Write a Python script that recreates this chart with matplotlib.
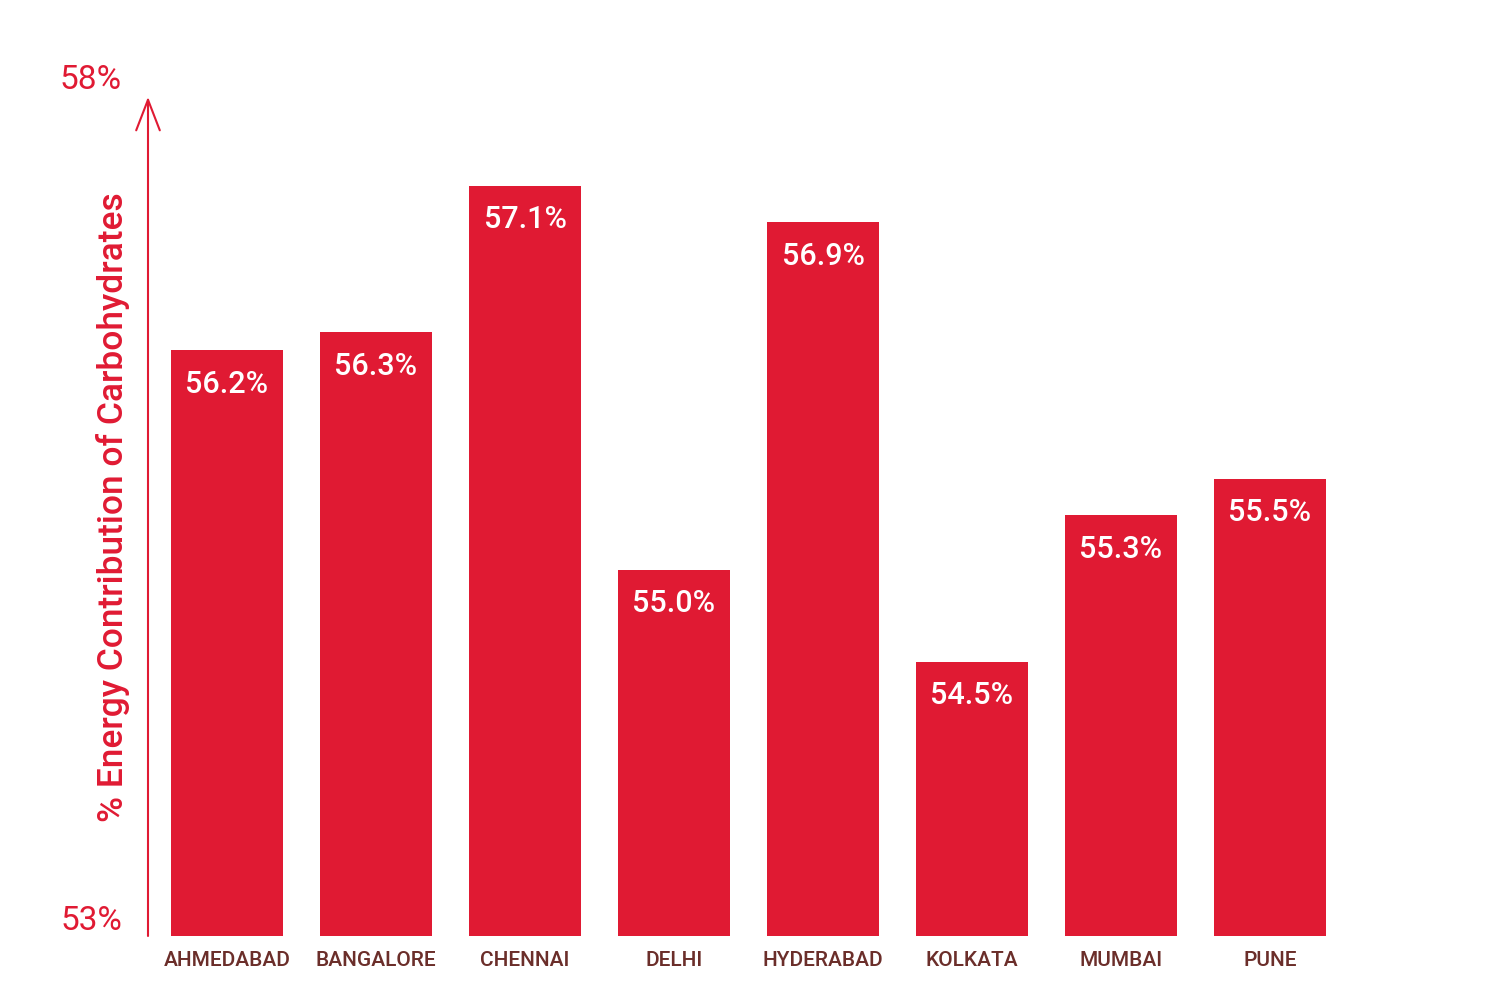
import matplotlib.pyplot as plt

plt.rcParams['font.family'] = ['Roboto', 'DejaVu Sans']

cities = ['AHMEDABAD', 'BANGALORE', 'CHENNAI', 'DELHI',
          'HYDERABAD', 'KOLKATA', 'MUMBAI', 'PUNE']
carb_share = [56.2, 56.3, 57.1, 55.0, 56.9, 54.5, 55.3, 55.5]
axis_labels = ['53%', '58%']

RED = '#E01A33'
BROWN = '#6B2E2A'


def main():
    fig = plt.figure(figsize=(15, 10), dpi=100)
    # axis line at x=148px, baseline at y=936px, top of axes at 78px
    ax = fig.add_axes([148 / 1500, 0.064, 1271 / 1500, 0.858])

    x = range(len(cities))
    base = 53
    ax.bar(x, [v - base for v in carb_share], bottom=base, width=0.75,
           color=RED, zorder=2)
    for i, v in zip(x, carb_share):
        ax.annotate('%.1f%%' % v, (i, v), xytext=(0, -34),
                    textcoords='offset pixels', ha='center', va='center',
                    color='white', fontsize=22, fontweight='medium')

    ax.set_ylim(53, 53 + 858 / 183)
    ax.set_xlim(-0.53, -0.53 + 1271 / 149)
    ax.set_xticks(list(x))
    ax.set_xticklabels(cities, color=BROWN, fontsize=15, fontweight='medium')
    ax.tick_params(axis='x', length=0, pad=11)
    ax.set_yticks([])
    for s in ax.spines.values():
        s.set_visible(False)

    # y axis arrow
    ax.annotate('', xy=(0, 0.978), xycoords='axes fraction',
                xytext=(0, 0), textcoords='axes fraction',
                arrowprops=dict(arrowstyle='->,head_length=2.2,head_width=0.85',
                                color=RED, lw=1.5, shrinkA=0, shrinkB=0))
    ax.text(-0.0205, 0.0175, axis_labels[0], transform=ax.transAxes,
            ha='right', va='center', color=RED, fontsize=24)
    ax.text(-0.0205, 0.998, axis_labels[1], transform=ax.transAxes,
            ha='right', va='center', color=RED, fontsize=24)
    fig.text(0.075, 0.493, '% Energy Contribution of Carbohydrates',
             rotation=90, ha='center', va='center', color=RED,
             fontsize=25.5, fontweight='medium')

    fig.savefig('out.png')


if __name__ == '__main__':
    main()
